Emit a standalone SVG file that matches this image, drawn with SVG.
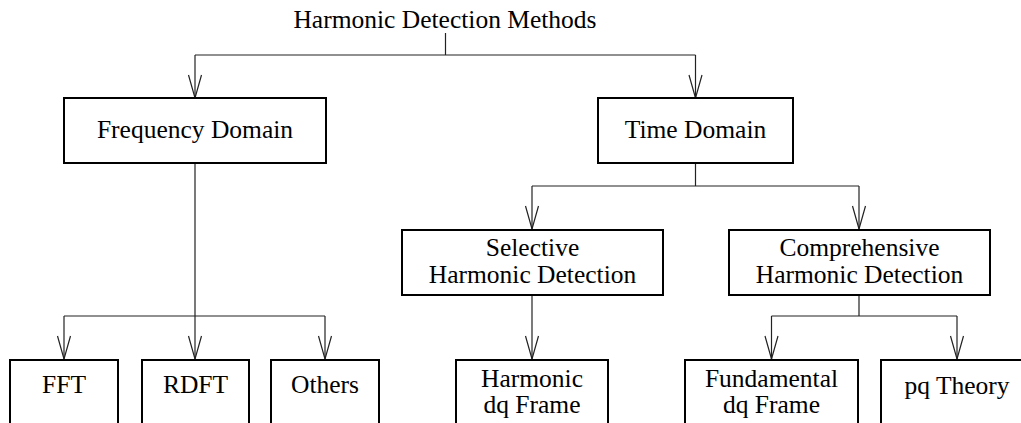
<svg xmlns="http://www.w3.org/2000/svg" width="1021" height="423" viewBox="0 0 1021 423">
<style>
.box{fill:#fff;stroke:#000;stroke-width:2}
.t{font-family:"Liberation Serif","Times New Roman",serif;font-size:25.5px;fill:#000;text-anchor:middle}
.c{fill:none;stroke:#222;stroke-width:1.2}
</style>
<defs>
<marker id="ah" markerUnits="userSpaceOnUse" markerWidth="30" markerHeight="20" viewBox="-25 -10 30 20" refX="0" refY="0" orient="auto">
<path d="M-23,-6.5 L0,0 L-23,6.5" fill="none" stroke="#222" stroke-width="1.2"/>
</marker>
</defs>
<rect width="1021" height="423" fill="#fff"/>
<g id="connectors">
<path class="c" d="M445.5 33 V55 M195 55 H695.5"/>
<path class="c" d="M195 55 V98" marker-end="url(#ah)"/>
<path class="c" d="M695.5 55 V98" marker-end="url(#ah)"/>
<path class="c" d="M195 163 V316 M64 316 H325"/>
<path class="c" d="M64 316 V359" marker-end="url(#ah)"/>
<path class="c" d="M195 316 V359" marker-end="url(#ah)"/>
<path class="c" d="M325 316 V359" marker-end="url(#ah)"/>
<path class="c" d="M695.5 163 V186 M532 186 H859"/>
<path class="c" d="M532 186 V229" marker-end="url(#ah)"/>
<path class="c" d="M859 186 V229" marker-end="url(#ah)"/>
<path class="c" d="M532 295 V359" marker-end="url(#ah)"/>
<path class="c" d="M859 295 V316 M771.5 316 H957"/>
<path class="c" d="M771.5 316 V359" marker-end="url(#ah)"/>
<path class="c" d="M957 316 V359" marker-end="url(#ah)"/>
</g>
<g id="title"><text class="t" x="445" y="28">Harmonic Detection Methods</text></g>
<g id="freq"><rect class="box" x="64" y="98" width="262" height="65"/><text class="t" x="195" y="138">Frequency Domain</text></g>
<g id="time"><rect class="box" x="598" y="98" width="195" height="65"/><text class="t" x="695.5" y="138">Time Domain</text></g>
<g id="selective"><rect class="box" x="402" y="230" width="261" height="65"/><text class="t" x="532.5" y="256">Selective</text><text class="t" x="532.5" y="283">Harmonic Detection</text></g>
<g id="comprehensive"><rect class="box" x="729" y="230" width="261" height="65"/><text class="t" x="859.5" y="256">Comprehensive</text><text class="t" x="859.5" y="283">Harmonic Detection</text></g>
<g id="fft"><rect class="box" x="10" y="360" width="108" height="80"/><text class="t" x="64" y="393">FFT</text></g>
<g id="rdft"><rect class="box" x="142" y="360" width="107" height="80"/><text class="t" x="195.5" y="393">RDFT</text></g>
<g id="others"><rect class="box" x="271" y="360" width="108" height="80"/><text class="t" x="325" y="393">Others</text></g>
<g id="harmonic-dq"><rect class="box" x="456" y="360" width="152" height="80"/><text class="t" x="532" y="387">Harmonic</text><text class="t" x="532" y="413">dq Frame</text></g>
<g id="fundamental-dq"><rect class="box" x="685" y="360" width="173" height="80"/><text class="t" x="771.5" y="387">Fundamental</text><text class="t" x="771.5" y="413">dq Frame</text></g>
<g id="pq"><rect class="box" x="881" y="360" width="160" height="80"/><text class="t" x="957" y="394">pq Theory</text></g>
</svg>
